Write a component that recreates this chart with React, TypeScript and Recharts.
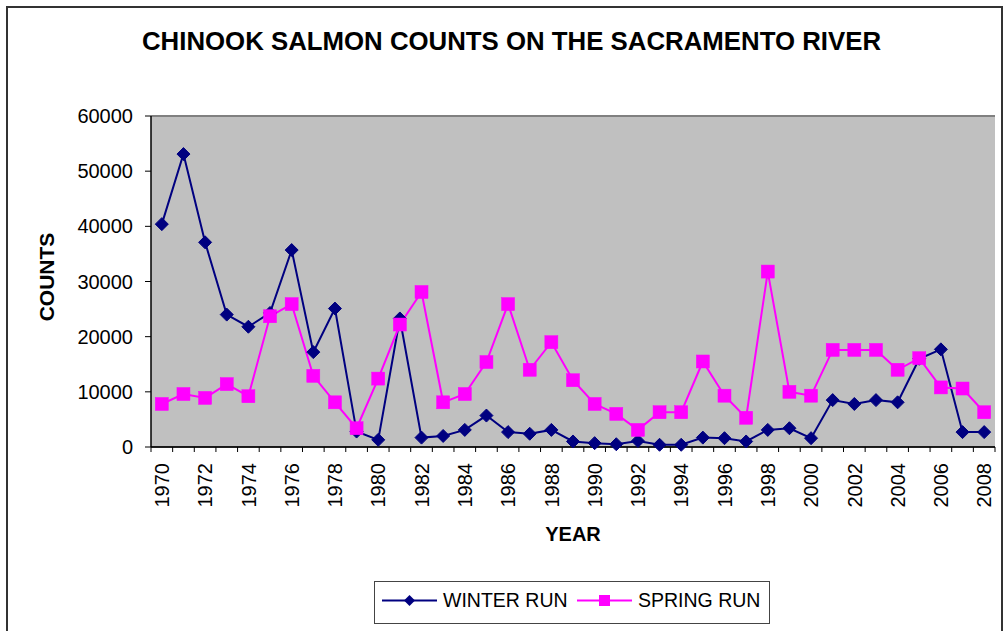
import React from 'react';
import { LineChart, Line, XAxis, YAxis, CartesianGrid, ReferenceLine } from 'recharts';

const years: string[] = [
  '1970','1971','1972','1973','1974','1975','1976','1977','1978','1979',
  '1980','1981','1982','1983','1984','1985','1986','1987','1988','1989',
  '1990','1991','1992','1993','1994','1995','1996','1997','1998','1999',
  '2000','2001','2002','2003','2004','2005','2006','2007','2008',
];

const winterRun: number[] = [
  40400, 53100, 37100, 24000, 21800, 24300, 35700, 17200, 25100, 2800,
  1300, 23300, 1700, 2000, 3100, 5700, 2700, 2400, 3100, 1000,
  700, 500, 1100, 400, 400, 1700, 1600, 1000, 3100, 3400,
  1600, 8500, 7800, 8500, 8100, 16000, 17700, 2700, 2700,
];

const springRun: number[] = [
  7800, 9600, 8900, 11400, 9200, 23700, 25900, 12900, 8100, 3400,
  12400, 22200, 28100, 8100, 9600, 15400, 25900, 14000, 19000, 12100,
  7800, 6000, 3100, 6300, 6300, 15500, 9300, 5300, 31800, 10000,
  9300, 17600, 17600, 17600, 14000, 16100, 10800, 10600, 6300,
];

const yTicks: number[] = [0, 10000, 20000, 30000, 40000, 50000, 60000];

const data = years.map((y, i) => ({ year: y, winter: winterRun[i], spring: springRun[i] }));

const W = 1003;
const H = 631;
const PLOT_LEFT = 151;
const PLOT_RIGHT = 995;
const HALF_BAND = (PLOT_RIGHT - PLOT_LEFT) / (years.length * 2);
const FONT = 'Arial, "Liberation Sans", Helvetica, sans-serif';
const WINTER = '#000080';
const SPRING = '#FF00FF';

const XTick = (props: any) => {
  const { x, y, payload, index } = props;
  const yr = Number(payload.value);
  const last = index === years.length - 1;
  return (
    <g>
      <line x1={x - HALF_BAND} y1={y} x2={x - HALF_BAND} y2={y + 5} stroke="#000" strokeWidth={1} />
      {last && <line x1={x + HALF_BAND} y1={y} x2={x + HALF_BAND} y2={y + 5} stroke="#000" strokeWidth={1} />}
      {yr % 2 === 0 && (
        <text
          x={x}
          y={y + 16}
          transform={`rotate(-90, ${x}, ${y + 16})`}
          textAnchor="end"
          dy="0.36em"
          fontSize={20}
          fontFamily={FONT}
          fill="#000"
        >
          {payload.value}
        </text>
      )}
    </g>
  );
};

const Diamond = (props: any) => {
  const { cx, cy, index } = props;
  if (cx == null || cy == null) return <g key={`d${index}`} />;
  const r = 6.5;
  return (
    <polygon
      key={`d${index}`}
      points={`${cx},${cy - r} ${cx + r},${cy} ${cx},${cy + r} ${cx - r},${cy}`}
      fill={WINTER}
      stroke={WINTER}
      strokeWidth={1}
    />
  );
};

const Square = (props: any) => {
  const { cx, cy, index } = props;
  if (cx == null || cy == null) return <g key={`s${index}`} />;
  const r = 6.5;
  return <rect key={`s${index}`} x={cx - r} y={cy - r} width={2 * r} height={2 * r} fill={SPRING} stroke={SPRING} strokeWidth={0.5} />;
};

export default function App() {
  return (
    <div style={{ position: 'absolute', left: 0, top: 0, width: W, height: H, overflow: 'hidden', background: '#fff', fontFamily: FONT }}>
      <LineChart width={W} height={H} data={data} margin={{ top: 116, right: W - PLOT_RIGHT, bottom: 124, left: 0 }}>
        <CartesianGrid vertical={false} stroke="#000" strokeWidth={1.2} fill="#C0C0C0" fillOpacity={1} />
        <XAxis
          dataKey="year"
          interval={0}
          height={60}
          padding={{ left: HALF_BAND, right: HALF_BAND }}
          tick={<XTick />}
          tickLine={false}
          tickSize={0}
          tickMargin={0}
          axisLine={{ stroke: '#000', strokeWidth: 1.5 }}
        />
        <YAxis
          yAxisId="left"
          width={PLOT_LEFT}
          domain={[0, 60000]}
          ticks={yTicks}
          interval={0}
          tickSize={6}
          tickMargin={12}
          tick={{ fill: '#000', fontSize: 20, fontFamily: FONT }}
          tickLine={{ stroke: '#000' }}
          axisLine={{ stroke: '#000', strokeWidth: 1.5 }}
        />
        <YAxis
          yAxisId="right"
          orientation="right"
          width={0}
          domain={[0, 60000]}
          tick={false}
          tickLine={false}
          axisLine={{ stroke: '#808080', strokeWidth: 2 }}
        />
        <ReferenceLine yAxisId="left" y={60000} stroke="#808080" strokeWidth={2} />
        <Line
          yAxisId="left"
          type="linear"
          dataKey="winter"
          stroke={WINTER}
          strokeWidth={2}
          dot={<Diamond />}
          activeDot={false}
          isAnimationActive={false}
        />
        <Line
          yAxisId="left"
          type="linear"
          dataKey="spring"
          stroke={SPRING}
          strokeWidth={2}
          dot={<Square />}
          activeDot={false}
          isAnimationActive={false}
        />
      </LineChart>
      <svg width={W} height={H} style={{ position: 'absolute', left: 0, top: 0, pointerEvents: 'none' }}>
        <path d={`M7,${H + 5} L7,7 L1002,7 L1002,${H + 5}`} fill="none" stroke="#333" strokeWidth={2} />
        <text x={511.5} y={49.5} textAnchor="middle" fontSize={25.8} fontWeight="bold" fontFamily={FONT} fill="#000">
          CHINOOK SALMON COUNTS ON THE SACRAMENTO RIVER
        </text>
        <text x={54} y={277} transform="rotate(-90, 54, 277)" textAnchor="middle" fontSize={21} fontWeight="bold" fontFamily={FONT} fill="#000">
          COUNTS
        </text>
        <text x={573} y={540.5} textAnchor="middle" fontSize={20} fontWeight="bold" fontFamily={FONT} fill="#000">
          YEAR
        </text>
        <rect x={374.5} y={581.5} width={395} height={42} fill="#fff" stroke="#444" strokeWidth={1} />
        <line x1={382} y1={600.5} x2={437} y2={600.5} stroke={WINTER} strokeWidth={2} />
        <polygon points="409.5,595 415,600.5 409.5,606 404,600.5" fill={WINTER} />
        <text x={443} y={607} fontSize={19.5} fontFamily={FONT} fill="#000">WINTER RUN</text>
        <line x1={577} y1={600.5} x2={632} y2={600.5} stroke={SPRING} strokeWidth={2} />
        <rect x={599} y={595} width={11} height={11} fill={SPRING} />
        <text x={638} y={607} fontSize={19.5} fontFamily={FONT} fill="#000">SPRING RUN</text>
      </svg>
    </div>
  );
}
